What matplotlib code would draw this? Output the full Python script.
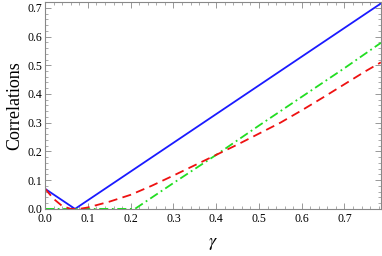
import numpy as np
import matplotlib
matplotlib.use("Agg")
import matplotlib.pyplot as plt
from matplotlib.ticker import MultipleLocator

plt.rcParams['font.family'] = ['Liberation Serif', 'DejaVu Serif']
plt.rcParams['mathtext.fontset'] = 'stix'

# blue solid
g_blue = [0.0, 0.07, 0.785]
c_blue = [0.07, 0.0, 0.715]

# red dashed
g_red = [0.0, 0.02, 0.04, 0.06, 0.08, 0.1, 0.15, 0.2, 0.25, 0.3, 0.35, 0.4,
         0.45, 0.5, 0.55, 0.6, 0.65, 0.7, 0.75, 0.785]
c_red = [0.07, 0.035, 0.01, 0.0, 0.0, 0.005, 0.025, 0.049, 0.081, 0.116, 0.152,
         0.188, 0.224, 0.262, 0.30, 0.343, 0.388, 0.434, 0.48, 0.51]

# green dash-dot
g_green = [0.0, 0.21, 0.3, 0.4, 0.5, 0.6, 0.7, 0.785]
c_green = [0.0, 0.0, 0.09, 0.188, 0.29, 0.39, 0.49, 0.578]

fig = plt.figure(figsize=(3.82, 2.56), dpi=100)
ax = fig.add_axes([0.118, 0.184, 0.879, 0.808])

ax.plot(g_blue, c_blue, color='#1a1aff', lw=1.3)
ax.plot(g_green, c_green, color='#22dd22', lw=1.3, dashes=(5, 2, 1, 2))
ax.plot(g_red, c_red, color='#ee1111', lw=1.3, dashes=(5, 3))

ax.set_xlim(0, 0.785)
ax.set_ylim(0, 0.72)
ax.xaxis.set_major_locator(MultipleLocator(0.1))
ax.xaxis.set_minor_locator(MultipleLocator(0.02))
ax.yaxis.set_major_locator(MultipleLocator(0.1))
ax.yaxis.set_minor_locator(MultipleLocator(0.02))
ax.tick_params(which='both', direction='in', top=True, right=True,
               color='#888888', labelsize=8.5)
ax.tick_params(axis='x', pad=3)
ax.tick_params(axis='y', pad=2)
ax.tick_params(which='major', length=4, width=0.6)
ax.tick_params(which='minor', length=2, width=0.5)
for s in ax.spines.values():
    s.set_color('#888888')
    s.set_linewidth(0.8)

ax.set_xlabel(r'$\gamma$', fontsize=13, labelpad=7)
ax.set_ylabel('Correlations', fontsize=13, labelpad=3)

fig.savefig('out.png', dpi=100)
